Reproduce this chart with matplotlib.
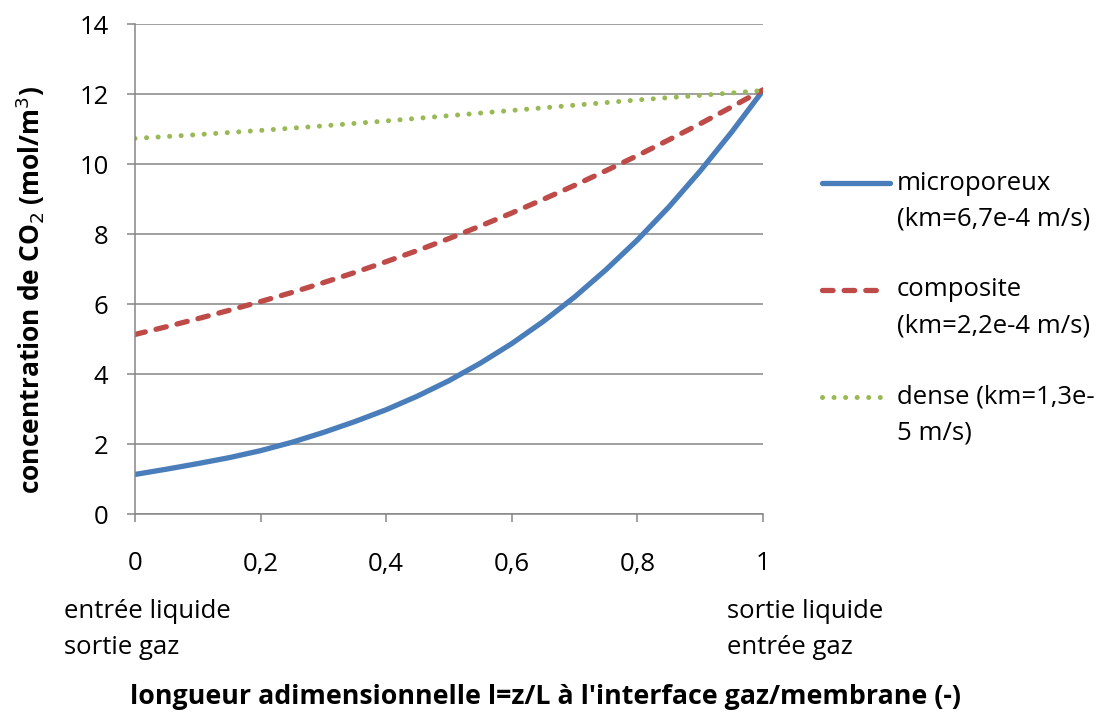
""" CO2 concentration profiles along the membrane contactor
"""
import numpy as np
import matplotlib.pyplot as plt
from matplotlib.lines import Line2D

plt.rcParams['font.family'] = ['Open Sans', 'DejaVu Sans']

# data
l_fine = [0, 0.05, 0.1, 0.15, 0.2, 0.25, 0.3, 0.35, 0.4, 0.45, 0.5,
          0.55, 0.6, 0.65, 0.7, 0.75, 0.8, 0.85, 0.9, 0.95, 1.0]
c_micro = [1.13, 1.28, 1.44, 1.61, 1.81, 2.05, 2.33, 2.64, 2.98, 3.37, 3.81,
           4.31, 4.87, 5.50, 6.20, 6.98, 7.83, 8.77, 9.80, 10.91, 12.10]
c_compo = [5.13, 5.35, 5.58, 5.82, 6.07, 6.33, 6.61, 6.90, 7.21, 7.53, 7.87,
           8.23, 8.60, 8.99, 9.39, 9.81, 10.24, 10.69, 11.15, 11.63, 12.12]
l_dense = [0, 0.1, 0.2, 0.3, 0.4, 0.5, 0.6, 0.7, 0.8, 0.9, 1.0]
c_dense = [10.73, 10.84, 10.96, 11.09, 11.23, 11.38, 11.53, 11.68, 11.83, 11.96, 12.10]

labels = ["microporeux\n(km=6,7e-4 m/s)",
          "composite\n(km=2,2e-4 m/s)",
          "dense (km=1,3e-\n5 m/s)"]
x_ticks = [0, 0.2, 0.4, 0.6, 0.8, 1]
x_ticklabels = ["0", "0,2", "0,4", "0,6", "0,8", "1"]
y_ticks = [0, 2, 4, 6, 8, 10, 12, 14]

blue = '#4A7EBB'
red = '#BE4B48'
green = '#98B954'
gcol = '#868686'
fs = 18.5

W, H = 1099, 720
fig = plt.figure(figsize=(W/100, H/100), dpi=100)
ax = fig.add_axes([135/W, 1-514/H, 628/W, 490/H])

styles = [dict(color=blue, lw=3.8, solid_capstyle='round', solid_joinstyle='round'),
          dict(color=red, lw=3.8, dashes=(2.0, 2.1), dash_capstyle='round'),
          dict(color=green, lw=3.6, dashes=(0.01, 2.3), dash_capstyle='round')]

ax.plot(l_fine, c_micro, **styles[0])
ax.plot(l_fine, c_compo, **styles[1])
ax.plot(l_dense, c_dense, **styles[2])

ax.set_xlim(0, 1)
ax.set_ylim(0, 14)
ax.set_xticks(x_ticks)
ax.set_xticklabels(x_ticklabels)
ax.set_yticks(y_ticks)
ax.yaxis.grid(True, color=gcol, lw=1.1)
ax.set_axisbelow(True)
for s in ['top', 'right']:
    ax.spines[s].set_visible(False)
for s in ['left', 'bottom']:
    ax.spines[s].set_color(gcol)
    ax.spines[s].set_linewidth(1.1)
ax.tick_params(axis='both', colors=gcol, length=6, width=1.1, labelsize=fs,
               labelcolor='black')
ax.tick_params(axis='x', pad=21)
ax.tick_params(axis='y', pad=13)

fig.text(30/W, 1-290/H, "concentration de CO$_2$ (mol/m$^3$)", fontsize=19,
         fontweight='bold', rotation=90, va='center', ha='center')
fig.text(130/W, 1-697/H, "longueur adimensionnelle l=z/L à l'interface gaz/membrane (-)",
         fontsize=19.3, fontweight='bold', va='center', ha='left')
for x0, txt in [(64, "entrée liquide\nsortie gaz"), (727, "sortie liquide\nentrée gaz")]:
    for k, line in enumerate(txt.split("\n")):
        fig.text(x0/W, 1-(612 + 36*k)/H, line, fontsize=fs, va='center', ha='left')

# legend drawn by hand so the key sits on the first text line
for i, (lab, st) in enumerate(zip(labels, styles)):
    y0 = 183 + 107*i
    yy = 1 - y0/H
    x1 = 890 if i == 0 else 884
    fig.add_artist(Line2D([822/W, x1/W], [yy, yy], transform=fig.transFigure, **st))
    for k, line in enumerate(lab.split("\n")):
        fig.text(897/W, 1-(y0 + 36*k)/H, line, fontsize=fs, va='center', ha='left')

fig.savefig('out.png', dpi=100)
